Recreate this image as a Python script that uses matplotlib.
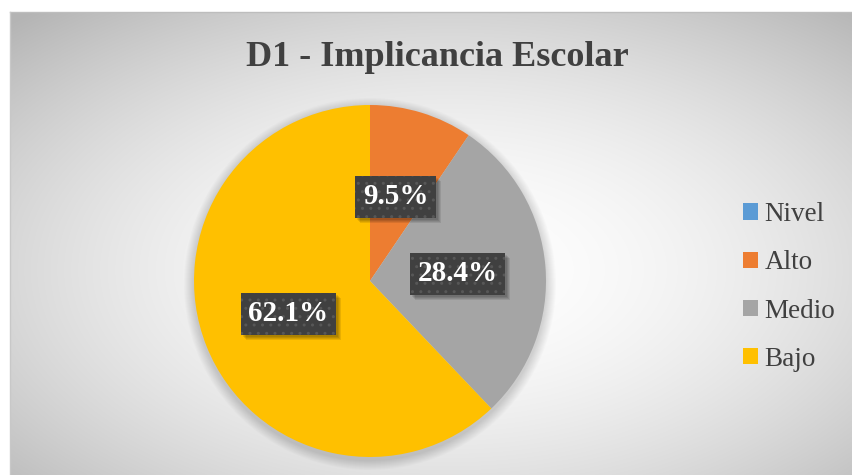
import numpy as np
import matplotlib
matplotlib.use("Agg")
import matplotlib.pyplot as plt
from matplotlib.patches import Rectangle, Circle

# ---- data ----
title = "D1 - Implicancia Escolar"
categories = ["Nivel", "Alto", "Medio", "Bajo"]
counts = [0, 9, 27, 59]
colors = ["#5B9BD5", "#ED7D31", "#A5A5A5", "#FFC000"]

W, H = 853, 475
fig = plt.figure(figsize=(W / 100, H / 100), dpi=100)
ax = fig.add_axes([0, 0, 1, 1])
ax.set_xlim(0, W)
ax.set_ylim(0, H)
ax.axis("off")

# ---- background: radial gradient inside frame ----
fx0, ftop = 10, H - 12
xs = np.arange(fx0, W) + 0.5
ys = np.arange(0, ftop) + 0.5
X, Y = np.meshgrid(xs, ys)
cx, cy = 450, H - 270
dx = (X - cx) / (W - fx0)
dy = (Y - cy) / (ftop)
d = np.sqrt(dx ** 2 + dy ** 2) / 0.62
g = 1.0 - 0.21 * np.clip(d, 0, 1.2) ** 1.8
img = np.dstack([g, g, g])
ax.imshow(img, extent=(fx0, W, 0, ftop), origin="lower", zorder=0, aspect="auto",
          interpolation="bilinear")
ax.plot([fx0, W], [ftop, ftop], color="#bdbdbd", lw=1, zorder=1)
ax.plot([fx0, fx0], [0, ftop], color="#c8c8c8", lw=1, zorder=1)

# ---- pie ----
pcx, pcy, R = 370, H - 281, 176
for k in range(10):
    ax.add_patch(Circle((pcx, pcy - 3), R + 10 - k, color="black",
                        alpha=0.016, lw=0, zorder=2))

vals = [v for v in counts if v > 0]
cols = [c for v, c in zip(counts, colors) if v > 0]
wedges, texts, autotexts = ax.pie(
    vals, colors=cols, startangle=90, counterclock=False, center=(pcx, pcy),
    radius=R, autopct="%.1f%%", pctdistance=0.5, frame=False,
    wedgeprops=dict(linewidth=0, zorder=3),
    textprops=dict(fontsize=21, fontweight="bold", family="Liberation Serif",
                   color="white", zorder=6))
ax.set_xlim(0, W)
ax.set_ylim(0, H)

for t in autotexts:
    t.set_bbox(dict(boxstyle="square,pad=0.26", facecolor="#404040",
                    edgecolor="#575757", linewidth=0, hatch=".."))

# shadows behind the label boxes, from their drawn extents
fig.canvas.draw()
inv = ax.transData.inverted()
for t in autotexts:
    bb = t.get_bbox_patch().get_window_extent()
    (x0, y0), (x1, y1) = inv.transform([[bb.x0, bb.y0], [bb.x1, bb.y1]])
    for k in range(4):
        ax.add_patch(Rectangle((x0 + 2 + k, y0 - 2 - k), x1 - x0, y1 - y0,
                               facecolor="black", edgecolor="none",
                               alpha=0.09, zorder=5))

# ---- title ----
ax.text(437, H - 57, title, ha="center", va="center", fontsize=26,
        fontweight="bold", family="Liberation Serif", color="#404040", zorder=7)

# ---- legend ----
handles = [Rectangle((0, 0), 1, 1, facecolor=c, edgecolor="none") for c in colors]
leg = ax.legend(handles, categories, loc="upper left",
                bbox_to_anchor=(724 / W, 1 - 183 / H), frameon=False,
                prop=dict(family="Liberation Serif", size=19.5),
                handlelength=0.55, handleheight=0.55, handletextpad=0.25,
                labelspacing=0.86, borderpad=0.2)
for txt in leg.get_texts():
    txt.set_color("#404040")

fig.savefig("out.png", dpi=100)
